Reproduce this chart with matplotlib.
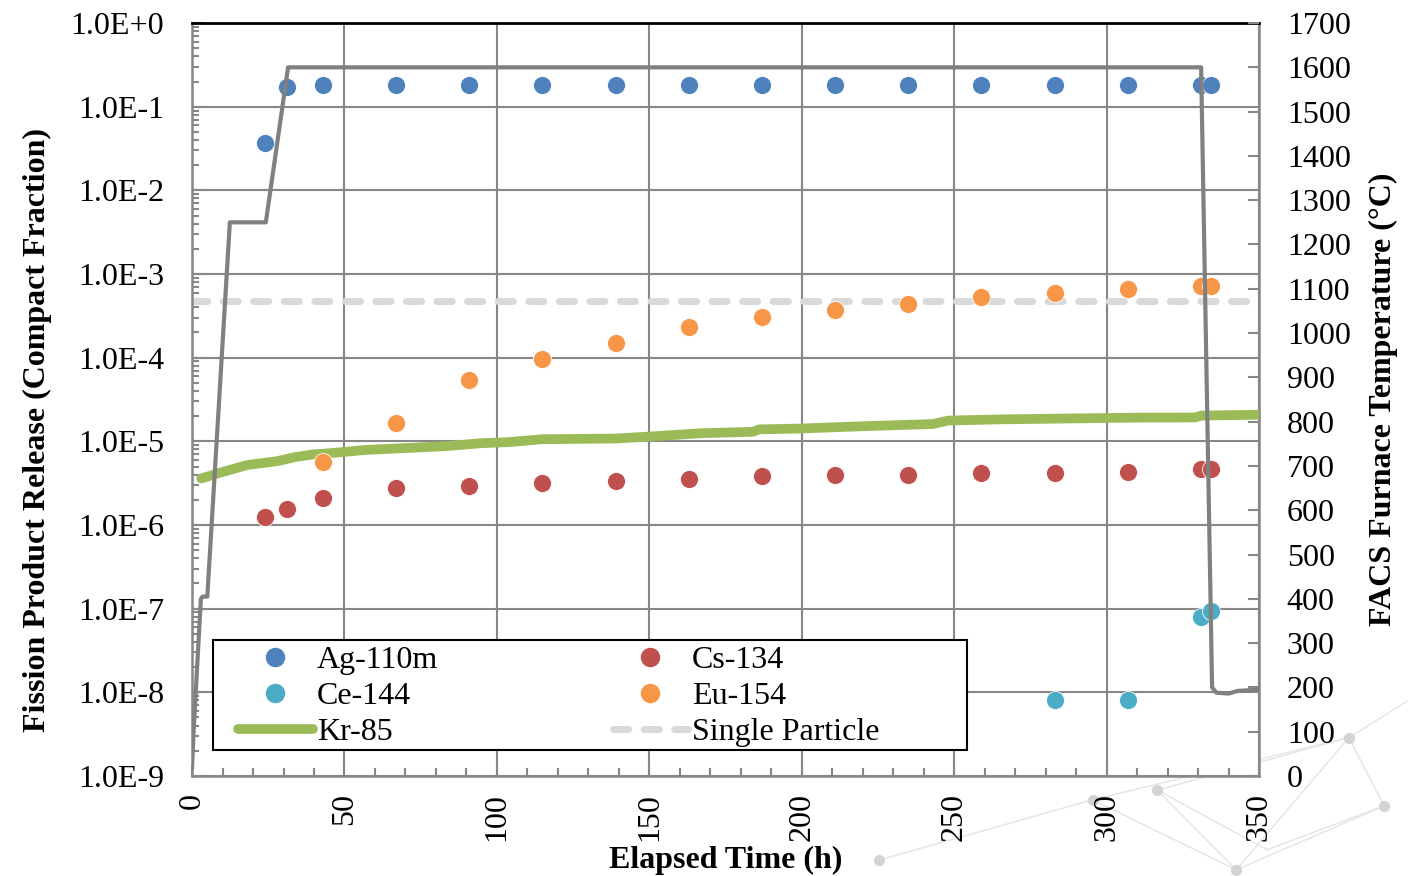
import matplotlib
matplotlib.use("Agg")
import matplotlib.pyplot as plt
from matplotlib.ticker import FuncFormatter, LogLocator, MultipleLocator
from matplotlib.lines import Line2D
from matplotlib.patches import Rectangle
import numpy as np

plt.rcParams['font.family'] = ['Liberation Serif', 'DejaVu Serif']

# sample times (h)
t_pts = [23.9, 31.2, 43, 66.9, 90.8, 114.8, 139, 163, 187, 210.9, 234.8, 258.8, 283, 307, 331, 334.2]

ag110m = [0.037, 0.172, 0.18, 0.18, 0.18, 0.18, 0.18, 0.18, 0.18, 0.18,
          0.18, 0.18, 0.18, 0.18, 0.18, 0.18]
cs134 = [1.25e-6, 1.55e-6, 2.1e-6, 2.77e-6, 2.92e-6, 3.18e-6, 3.36e-6, 3.55e-6,
         3.85e-6, 3.96e-6, 3.96e-6, 4.19e-6, 4.19e-6, 4.3e-6, 4.67e-6, 4.67e-6]

t_eu = [43, 66.9, 90.8, 114.8, 139, 163, 187, 210.9, 234.8, 258.8, 283, 307, 331, 334.2]
eu154 = [5.66e-6, 1.66e-5, 5.4e-5, 9.6e-5, 1.5e-4, 2.33e-4, 3.06e-4, 3.72e-4,
         4.38e-4, 5.31e-4, 5.93e-4, 6.62e-4, 7.19e-4, 7.19e-4]

t_ce = [283, 307, 331, 334.2]
ce144 = [8.1e-9, 8.1e-9, 7.96e-8, 9.4e-8]

t_kr = [3, 10, 18, 28, 34, 40, 45, 57, 73, 84, 95, 104, 115, 139, 150, 167, 184, 186,
        199, 221, 243, 248, 265, 290, 310, 329, 331, 350]
kr85 = [3.6e-6, 4.3e-6, 5.2e-6, 5.8e-6, 6.5e-6, 7.0e-6, 7.2e-6, 7.9e-6, 8.4e-6, 8.8e-6,
        9.5e-6, 9.8e-6, 1.06e-5, 1.08e-5, 1.14e-5, 1.25e-5, 1.3e-5, 1.39e-5, 1.42e-5,
        1.52e-5, 1.61e-5, 1.77e-5, 1.83e-5, 1.88e-5, 1.92e-5, 1.93e-5, 2.03e-5, 2.08e-5]

single_particle = 4.8e-4

t_temp = [0, 0.5, 2.9, 3.5, 5.0, 12.4, 24.2, 31.5, 331, 334.6, 336, 340, 343, 350]
temp = [20, 100, 400, 405, 405, 1250, 1250, 1600, 1600, 200, 188, 186, 192, 195]

c_ag = '#4F81BD'
c_cs = '#C0504D'
c_ce = '#4BACC6'
c_eu = '#F79646'
c_kr = '#9BBB59'
c_sp = '#D9D9D9'
c_temp = '#808080'
c_grid = '#878787'
fs = 23

fig = plt.figure(figsize=(14.08, 8.76), dpi=100)
ax = fig.add_axes([0.1364, 0.1142, 0.7578, 0.8595])

# background decoration (network pattern, lower right)
nodes = [(0.958, 0.158), (0.983, 0.080), (0.776, 0.087), (0.822, 0.098), (0.878, 0.007),
         (0.624, 0.018), (0.90, 0.03), (1.0, 0.2)]
links = [(0, 1), (0, 2), (0, 3), (0, 4), (2, 4), (3, 4), (2, 5), (1, 4), (3, 6), (0, 7), (1, 6)]
for i, j in links:
    fig.add_artist(Line2D([nodes[i][0], nodes[j][0]], [nodes[i][1], nodes[j][1]],
                          transform=fig.transFigure, color='#E4E4E4', lw=1, zorder=0))
for x, y in nodes[:6]:
    fig.add_artist(Line2D([x], [y], transform=fig.transFigure, marker='o', ms=7,
                          color='#D3D3D3', lw=0, zorder=0))

ax.set_yscale('log')
ax.set_xlim(0, 350)
ax.set_ylim(1e-9, 1)

ax.axhline(single_particle, color=c_sp, lw=5, dashes=(2.2, 2.2), dash_capstyle='round', zorder=2)
ax.plot(t_kr, kr85, color=c_kr, lw=7, solid_capstyle='round', zorder=3)
ms = 13
ax.plot(t_pts, ag110m, 'o', color=c_ag, ms=ms, mec='white', mew=0.6, zorder=4)
ax.plot(t_pts, cs134, 'o', color=c_cs, ms=ms, mec='white', mew=0.6, zorder=4)
ax.plot(t_eu, eu154, 'o', color=c_eu, ms=ms, mec='white', mew=0.6, zorder=4)
ax.plot(t_ce, ce144, 'o', color=c_ce, ms=ms, mec='white', mew=0.6, zorder=4)

ax.grid(True, which='major', color=c_grid, lw=1.5)
ax.set_axisbelow(True)
ax.xaxis.set_major_locator(MultipleLocator(50))
ax.xaxis.set_minor_locator(MultipleLocator(10))
ax.yaxis.set_major_locator(LogLocator(base=10, numticks=20))
ax.yaxis.set_minor_locator(LogLocator(base=10, subs=np.arange(2, 10), numticks=20))
ax.yaxis.set_major_formatter(FuncFormatter(lambda v, p: "1.0E%+d" % int(round(np.log10(v)))))
ax.tick_params(axis='both', which='both', direction='in', color=c_grid, width=1.5)
ax.tick_params(axis='y', which='major', length=8, labelsize=fs, pad=20)
ax.tick_params(axis='y', which='minor', length=5)
ax.tick_params(axis='x', which='major', length=8, labelsize=fs, pad=12, labelrotation=90)
ax.tick_params(axis='x', which='minor', length=6)
for s in ['left', 'bottom', 'right']:
    ax.spines[s].set_color(c_grid)
    ax.spines[s].set_linewidth(1.8)
ax.spines['top'].set_color('black')
ax.spines['top'].set_linewidth(2)

ax.set_xlabel('Elapsed Time (h)', fontsize=fs, fontweight='bold', labelpad=4)
ax.set_ylabel('Fission Product Release (Compact Fraction)', fontsize=fs, fontweight='bold')
ax.yaxis.set_label_coords(-0.131, 0.46)

ax2 = ax.twinx()
ax2.plot(t_temp, temp, color=c_temp, lw=3, zorder=5)
ax2.set_ylim(0, 1700)
ax2.yaxis.set_major_locator(MultipleLocator(100))
ax2.tick_params(axis='y', direction='in', color=c_grid, width=1.5, length=8,
                labelsize=fs, pad=20)
for s in ax2.spines.values():
    s.set_visible(False)
ax2.set_ylabel('FACS Furnace Temperature (°C)', fontsize=fs, fontweight='bold', labelpad=13)

# legend frame
ax2.add_patch(Rectangle((0.0197, 0.0345), 0.707, 0.146, transform=ax2.transAxes,
                        facecolor='white', edgecolor='black', lw=1.5, zorder=9))

handles = [
    Line2D([], [], ls='none', marker='o', ms=ms, color=c_ag, label='Ag-110m'),
    Line2D([], [], ls='none', marker='o', ms=ms, color=c_ce, label='Ce-144'),
    Line2D([], [], color=c_kr, lw=7, solid_capstyle='round', label='Kr-85'),
    Line2D([], [], ls='none', marker='o', ms=ms, color=c_cs, label='Cs-134'),
    Line2D([], [], ls='none', marker='o', ms=ms, color=c_eu, label='Eu-154'),
    Line2D([], [], color=c_sp, lw=5, dashes=(2.2, 2.2), dash_capstyle='round', label='Single Particle'),
]
leg = ax2.legend(handles=handles, ncol=2, loc='upper left',
                 bbox_to_anchor=(0.043, 0.1727), fontsize=fs, frameon=False,
                 handlelength=2.35, handletextpad=0.13, borderaxespad=0,
                 labelspacing=0.21, borderpad=0, columnspacing=5.45)
leg.set_zorder(10)

fig.savefig('out.png', dpi=100)
